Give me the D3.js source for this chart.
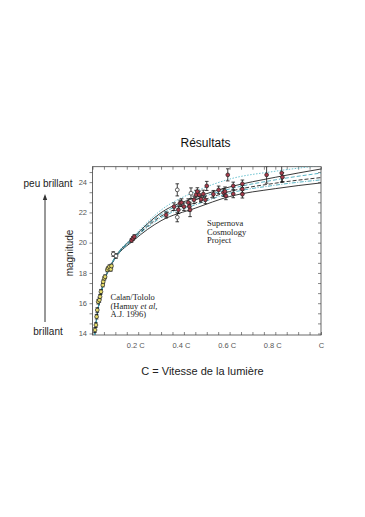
<!DOCTYPE html>
<html>
<head>
<meta charset="utf-8">
<script src="https://cdn.jsdelivr.net/npm/d3@7"></script>
<style>
  body { margin: 0; background: #fff; }
  svg { display: block; font-family: "Liberation Sans", Arial, sans-serif; }
</style>
</head>
<body>
<svg id="chart" width="365" height="517"></svg>
<script>
// Supernova Cosmology Project points (x in units of c, m = magnitude)
var scpX   = [0.091, 0.103, 0.171, 0.177, 0.183, 0.322, 0.357, 0.371, 0.376, 0.371, 0.383, 0.390, 0.400, 0.419, 0.424, 0.427, 0.431, 0.444, 0.453, 0.459, 0.467, 0.475, 0.485, 0.494, 0.500, 0.529, 0.552, 0.573, 0.580, 0.584, 0.592, 0.616, 0.616, 0.656, 0.656, 0.656, 0.762, 0.828, 0.831];
var scpM   = [19.25, 19.12, 20.15, 20.28, 20.40, 21.83, 22.38, 23.49, 22.17, 21.68, 22.61, 22.65, 22.38, 22.65, 22.38, 22.17, 23.27, 22.83, 23.16, 23.38, 23.16, 22.87, 23.22, 22.83, 23.75, 23.20, 23.49, 23.31, 23.38, 23.09, 24.48, 23.75, 23.22, 23.89, 23.54, 23.20, 24.48, 24.60, 24.33];
var scpErr = [0.15, 0.15, 0.12, 0.12, 0.12, 0.20, 0.25, 0.40, 0.25, 0.30, 0.20, 0.25, 0.25, 0.25, 0.30, 0.45, 0.35, 0.25, 0.30, 0.25, 0.25, 0.20, 0.25, 0.25, 0.30, 0.25, 0.25, 0.25, 0.30, 0.25, 0.40, 0.25, 0.25, 0.25, 0.25, 0.25, 0.55, 0.60, 0.30];
var scpOpen = [1, 1, 0, 0, 0, 0, 0, 1, 0, 1, 0, 0, 0, 0, 0, 0, 1, 0, 0, 0, 0, 0, 0, 0, 0, 0, 0, 0, 0, 0, 0, 0, 0, 0, 0, 0, 0, 0, 0];

// Calan/Tololo low-redshift points
var ctX   = [0.011, 0.015, 0.018, 0.021, 0.025, 0.030, 0.033, 0.037, 0.045, 0.047, 0.052, 0.055, 0.065, 0.069, 0.074, 0.080, 0.083];
var ctM   = [14.23, 14.56, 15.11, 15.55, 16.10, 16.21, 16.43, 16.76, 17.20, 17.42, 17.65, 17.75, 18.20, 18.31, 18.41, 18.24, 18.46];
var ctErr = [0.15, 0.15, 0.15, 0.15, 0.15, 0.15, 0.15, 0.15, 0.12, 0.12, 0.12, 0.12, 0.12, 0.12, 0.12, 0.12, 0.12];

// model curves, read at these x values
var curveX = [0.008, 0.015, 0.02, 0.03, 0.05, 0.07, 0.1, 0.18, 0.3, 0.45, 0.6, 0.8, 1.0];
var curveA = [13.75, 14.60, 15.20, 16.10, 17.42, 18.22, 19.08, 20.42, 22.15, 23.38, 24.20, 24.72, 25.10];
var curveB = [13.75, 14.60, 15.20, 16.10, 17.41, 18.21, 19.06, 20.36, 21.98, 22.98, 23.68, 24.32, 24.87];
var curveC = [13.75, 14.60, 15.20, 16.10, 17.41, 18.20, 19.04, 20.32, 21.87, 22.85, 23.55, 24.15, 24.60];
var curveD = [13.75, 14.60, 15.20, 16.10, 17.40, 18.19, 19.02, 20.27, 21.75, 22.62, 23.38, 23.93, 24.30];
var curveE = [13.75, 14.60, 15.20, 16.10, 17.40, 18.18, 19.00, 20.22, 21.65, 22.50, 23.27, 23.80, 24.15];
var curveF = [13.75, 14.60, 15.20, 16.10, 17.39, 18.17, 18.98, 20.15, 21.45, 22.28, 23.05, 23.57, 23.95];

var yTickLabels = [14, 16, 18, 20, 22, 24];
var xTickValues = [0.2, 0.4, 0.6, 0.8, 1.0];
var xTickLabels = ["0.2 C", "0.4 C", "0.6 C", "0.8 C", "C"];

var svg = d3.select("#chart");

var pLeft = 92.5, pRight = 321, pTop = 166.7, pBottom = 335;

var x = d3.scaleLinear().domain([0, 1]).range([pLeft, pRight]);
var y = d3.scaleLinear().domain([13.9, 25.02]).range([pBottom, pTop]);

svg.append("defs").append("clipPath").attr("id", "plotclip")
  .append("rect")
  .attr("x", pLeft).attr("y", pTop)
  .attr("width", pRight - pLeft).attr("height", pBottom - pTop);

// title
svg.append("text")
  .attr("x", 205.5).attr("y", 147)
  .attr("text-anchor", "middle")
  .attr("font-size", 12)
  .attr("fill", "#111")
  .text("Résultats");

// ticks
var minorY = d3.range(14, 25.01, 2 / 3);
var minorX = d3.range(0, 1.001, 0.05);

function styleAxis(g) {
  g.select(".domain").remove();
  g.selectAll(".tick line").attr("stroke", "#555").attr("stroke-width", 0.7);
  g.selectAll(".tick text").remove();
}

svg.append("g").attr("transform", "translate(0," + pBottom + ")")
  .call(d3.axisBottom(x).tickValues(minorX).tickSize(-3).tickSizeOuter(0))
  .call(styleAxis);
svg.append("g").attr("transform", "translate(0," + pTop + ")")
  .call(d3.axisTop(x).tickValues(minorX).tickSize(-3).tickSizeOuter(0))
  .call(styleAxis);
svg.append("g").attr("transform", "translate(" + pLeft + ",0)")
  .call(d3.axisLeft(y).tickValues(minorY).tickSize(3).tickSizeOuter(0))
  .call(styleAxis);
svg.append("g").attr("transform", "translate(" + pRight + ",0)")
  .call(d3.axisRight(y).tickValues(minorY).tickSize(-3).tickSizeOuter(0))
  .call(styleAxis);

// frame
svg.append("rect")
  .attr("x", pLeft).attr("y", pTop)
  .attr("width", pRight - pLeft).attr("height", pBottom - pTop)
  .attr("fill", "none")
  .attr("stroke", "#444")
  .attr("stroke-width", 0.8);

// tick labels
svg.selectAll(".ylab")
  .data(yTickLabels)
  .enter().append("text")
  .attr("class", "ylab")
  .attr("x", 87)
  .attr("y", function(d) { return y(d) + 2.6; })
  .attr("text-anchor", "end")
  .attr("font-size", 7.5)
  .attr("fill", "#555")
  .text(function(d) { return d; });

svg.selectAll(".xlab")
  .data(xTickValues)
  .enter().append("text")
  .attr("class", "xlab")
  .attr("x", function(d, i) { return x(d) + (i < 4 ? -2.5 : 0.5); })
  .attr("y", 348)
  .attr("text-anchor", "middle")
  .attr("font-size", 7.5)
  .attr("fill", "#555")
  .text(function(d, i) { return xTickLabels[i]; });

// curves: black first, cyan on top
var plot = svg.append("g").attr("clip-path", "url(#plotclip)");

var line = d3.line()
  .x(function(d) { return x(d[0]); })
  .y(function(d) { return y(d[1]); })
  .curve(d3.curveMonotoneX);

var curves = [
  { v: curveB, color: "#222", dash: null, w: 0.9 },
  { v: curveF, color: "#222", dash: null, w: 0.9 },
  { v: curveD, color: "#222", dash: "4,2", w: 0.9 },
  { v: curveA, color: "#5cbccc", dash: "1.5,1.5", w: 0.9 },
  { v: curveC, color: "#46aabd", dash: "4,2", w: 0.9 },
  { v: curveE, color: "#46aabd", dash: "4,1.5,1,1.5", w: 0.9 }
];

curves.forEach(function(c) {
  plot.append("path")
    .datum(curveX.map(function(xv, i) { return [xv, c.v[i]]; }))
    .attr("fill", "none")
    .attr("stroke", c.color)
    .attr("stroke-width", c.w)
    .attr("stroke-dasharray", c.dash)
    .attr("d", line);
});

// error bars + points
function drawPoints(xs, ms, errs, fillFn) {
  var g = plot.append("g");
  xs.forEach(function(xv, i) {
    var cx = x(xv), y0 = y(ms[i] - errs[i]), y1 = y(ms[i] + errs[i]);
    g.append("line").attr("x1", cx).attr("x2", cx).attr("y1", y0).attr("y2", y1)
      .attr("stroke", "#111").attr("stroke-width", 0.8);
    g.append("line").attr("x1", cx - 1.8).attr("x2", cx + 1.8).attr("y1", y0).attr("y2", y0)
      .attr("stroke", "#111").attr("stroke-width", 0.8);
    g.append("line").attr("x1", cx - 1.8).attr("x2", cx + 1.8).attr("y1", y1).attr("y2", y1)
      .attr("stroke", "#111").attr("stroke-width", 0.8);
  });
  g.selectAll("circle")
    .data(xs)
    .enter().append("circle")
    .attr("cx", function(d) { return x(d); })
    .attr("cy", function(d, i) { return y(ms[i]); })
    .attr("r", 1.9)
    .attr("fill", function(d, i) { return fillFn(i); })
    .attr("stroke", "#222")
    .attr("stroke-width", 0.7);
}

drawPoints(ctX, ctM, ctErr, function() { return "#e6dc6a"; });
drawPoints(scpX, scpM, scpErr, function(i) { return scpOpen[i] ? "#fff" : "#a83a4a"; });

// annotations inside the plot
var serif = "'Liberation Serif', 'Times New Roman', serif";
svg.append("text").attr("x", 207).attr("y", 226).attr("font-family", serif).attr("font-size", 8.5).attr("fill", "#222").text("Supernova");
svg.append("text").attr("x", 207).attr("y", 234.5).attr("font-family", serif).attr("font-size", 8.5).attr("fill", "#222").text("Cosmology");
svg.append("text").attr("x", 207).attr("y", 243).attr("font-family", serif).attr("font-size", 8.5).attr("fill", "#222").text("Project");

svg.append("text").attr("x", 110.5).attr("y", 300).attr("font-family", serif).attr("font-size", 8.5).attr("fill", "#222").text("Calan/Tololo");
var hm = svg.append("text").attr("x", 110.5).attr("y", 308.5).attr("font-family", serif).attr("font-size", 8.5).attr("fill", "#222");
hm.append("tspan").text("(Hamuy ");
hm.append("tspan").attr("font-style", "italic").text("et al,");
svg.append("text").attr("x", 110.5).attr("y", 317).attr("font-family", serif).attr("font-size", 8.5).attr("fill", "#222").text("A.J. 1996)");

// side labels and arrow
svg.append("text").attr("x", 48).attr("y", 187).attr("text-anchor", "middle").attr("font-size", 10).attr("fill", "#222").text("peu brillant");
svg.append("text").attr("x", 48).attr("y", 335).attr("text-anchor", "middle").attr("font-size", 10).attr("fill", "#222").text("brillant");
svg.append("text")
  .attr("transform", "translate(72.5,253) rotate(-90)")
  .attr("text-anchor", "middle").attr("font-size", 10).attr("fill", "#222")
  .text("magnitude");

svg.append("line").attr("x1", 45).attr("x2", 45).attr("y1", 322).attr("y2", 199)
  .attr("stroke", "#333").attr("stroke-width", 1);
svg.append("path").attr("d", "M45,194 L42.8,200 L47.2,200 Z").attr("fill", "#333");

svg.append("text").attr("x", 202.5).attr("y", 375).attr("text-anchor", "middle")
  .attr("font-size", 11).attr("fill", "#222").text("C = Vitesse de la lumière");
</script>
</body>
</html>
